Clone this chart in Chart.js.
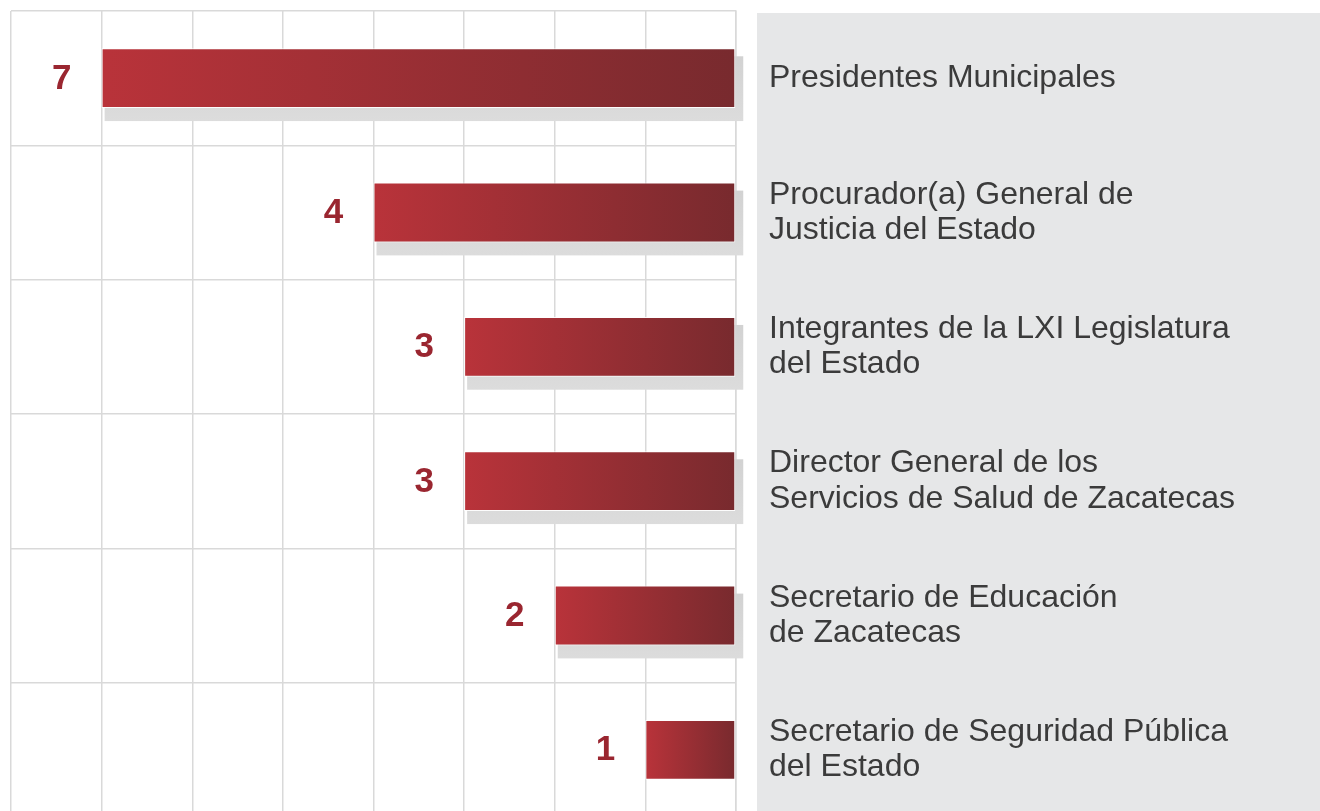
<!DOCTYPE html>
<html>
<head>
<meta charset="utf-8">
<script src="https://cdn.jsdelivr.net/npm/chart.js@4/dist/chart.umd.min.js"></script>
<style>
  html, body { margin: 0; padding: 0; background: #fff; overflow: hidden; }
  #wrap { position: absolute; left: 0; top: 0; width: 1320px; height: 830px; }
</style>
</head>
<body>
<div id="wrap"><canvas id="chart" width="1320" height="830"></canvas></div>
<script>
const categories = [
    'Presidentes Municipales',
    ['Procurador(a) General de', 'Justicia del Estado'],
    ['Integrantes de la LXI Legislatura', 'del Estado'],
    ['Director General de los', 'Servicios de Salud de Zacatecas'],
    ['Secretario de Educación', 'de Zacatecas'],
    ['Secretario de Seguridad Pública', 'del Estado']
];
const values = [7, 4, 3, 3, 2, 1];
const axisMax = 8;

const FONT = "'Liberation Sans', Arial, sans-serif";
const GRID = '#d9d9d9';

// grey panel behind the category labels
const panelPlugin = {
    id: 'panel',
    beforeDraw(chart) {
        const ctx = chart.ctx;
        ctx.save();
        ctx.fillStyle = '#e6e7e8';
        ctx.fillRect(757, 13, chart.width - 757, chart.height - 13);
        ctx.restore();
    }
};

// soft drop shadow under bars + value labels left of each bar
const barExtras = {
    id: 'barExtras',
    beforeDatasetsDraw(chart) {
        const ctx = chart.ctx;
        const meta = chart.getDatasetMeta(0);
        ctx.save();
        meta.data.forEach((bar, i) => {
            if (i === meta.data.length - 1) return;
            const p = bar.getProps(['x', 'y', 'base', 'height'], true);
            const left = Math.min(p.x, p.base), right = Math.max(p.x, p.base);
            const top = p.y - p.height / 2;
            const g = ctx.createLinearGradient(0, top + 8, 0, top + p.height + 13);
            g.addColorStop(0, '#d2d2d2');
            g.addColorStop(1, '#dcdcdc');
            ctx.fillStyle = g;
            ctx.fillRect(left + 3, top + 8, right - left + 5, p.height + 5);
        });
        ctx.restore();
    },
    afterDatasetsDraw(chart) {
        const ctx = chart.ctx;
        const meta = chart.getDatasetMeta(0);
        ctx.save();
        ctx.font = 'bold 35px ' + FONT;
        ctx.fillStyle = '#9a2630';
        ctx.textAlign = 'center';
        ctx.textBaseline = 'middle';
        meta.data.forEach((bar, i) => {
            const p = bar.getProps(['x', 'y'], true);
            ctx.fillText(String(values[i]), p.x - 40, p.y + 1);
        });
        ctx.restore();
    }
};

new Chart(document.getElementById('chart'), {
    type: 'bar',
    data: {
        labels: categories,
        datasets: [{
            data: values,
            backgroundColor: (c) => {
                const chart = c.chart;
                if (!chart.chartArea || c.dataIndex === undefined) return '#9a2d33';
                const xs = chart.scales.x;
                const l = xs.getPixelForValue(values[c.dataIndex]);
                const r = xs.getPixelForValue(0);
                const g = chart.ctx.createLinearGradient(l, 0, r, 0);
                g.addColorStop(0, '#b9333a');
                g.addColorStop(1, '#782a2e');
                return g;
            },
            borderColor: 'rgba(255,255,255,0.9)',
            borderWidth: 1,
            borderSkipped: false,
            barPercentage: 0.445,
            categoryPercentage: 1
        }]
    },
    options: {
        indexAxis: 'y',
        responsive: false,
        animation: false,
        layout: { padding: { left: 11, top: 11, right: 0, bottom: 13 } },
        plugins: {
            legend: { display: false },
            tooltip: { enabled: false }
        },
        scales: {
            x: {
                reverse: true,
                min: 0,
                max: axisMax,
                ticks: { display: false, stepSize: 1 },
                grid: { color: GRID, lineWidth: 1.5, drawTicks: false },
                border: { display: false },
                afterFit: (s) => {
                    s.height = 0;
                    s.paddingLeft = 0;
                    s.paddingRight = 0;
                }
            },
            y: {
                position: 'right',
                ticks: {
                    color: '#3b3b3b',
                    font: { family: FONT, size: 32, lineHeight: 1.1 },
                    padding: 33,
                    crossAlign: 'near'
                },
                grid: { color: GRID, lineWidth: 1.5, drawTicks: false, offset: true },
                border: { color: GRID, width: 1.5 },
                afterFit: (s) => {
                    s.width = 1320 - 736;
                    s.paddingTop = 0;
                    s.paddingBottom = 0;
                }
            }
        }
    },
    plugins: [panelPlugin, barExtras]
});
</script>
</body>
</html>
